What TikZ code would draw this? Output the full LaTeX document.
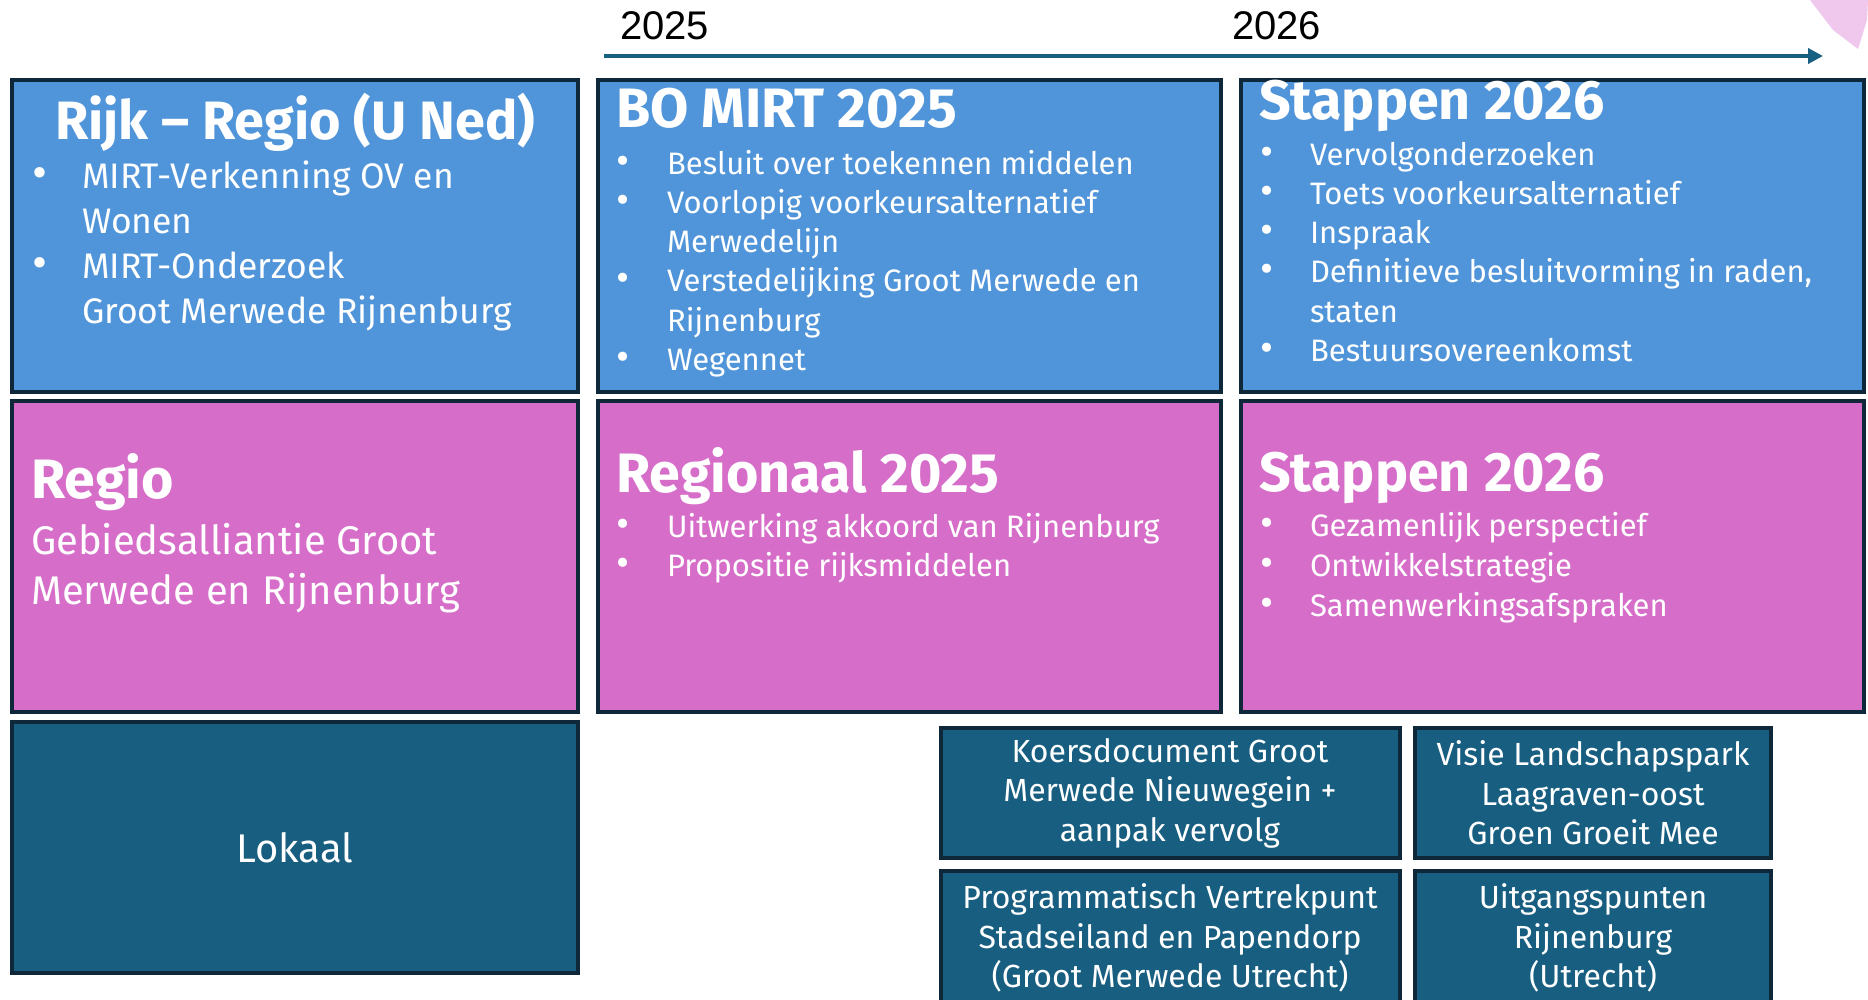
\documentclass[tikz,border=0pt]{standalone}
\usepackage{fontspec}
\setmainfont{Fira Sans}
\newfontfamily\yearfont{Liberation Sans}
\usetikzlibrary{arrows.meta}
\definecolor{bluebox}{RGB}{80,149,217}
\definecolor{pinkbox}{RGB}{214,110,201}
\definecolor{tealbox}{RGB}{23,94,128}
\definecolor{edgec}{RGB}{14,40,58}
\definecolor{arrowc}{RGB}{24,96,130}
\definecolor{pinklight}{RGB}{240,200,238}
\newlength{\bind}
\newcommand{\bfirst}[1]{\noindent\hangindent=\bind\hangafter=1\makebox[\bind][l]{\scalebox{1.3}{•}}#1}
\newcommand{\bitem}[1]{\par\bfirst{#1}}
\newcommand{\bodyset}[3]{\fontsize{#1}{#2}\selectfont\spaceskip=0pt\xspaceskip=0pt\setlength{\bind}{#3}}
\tikzset{
  box/.style={draw=edgec, line width=3.5pt},
  bluecell/.style={box, fill=bluebox},
  pinkcell/.style={box, fill=pinkbox},
  tealcell/.style={box, fill=tealbox},
  title/.style={text=white, inner sep=0pt, outer sep=0pt, anchor=base west, font=\bfseries\fontsize{55.5}{60}\selectfont},
  items/.style={text=white, inner sep=0pt, outer sep=0pt, anchor=base west, align=left, text width=#1},
  smalltxt/.style={text=white, inner sep=0pt, outer sep=0pt, align=center, font=\fontsize{32}{39.5}\selectfont},
  year/.style={text=black, inner sep=0pt, outer sep=0pt, anchor=base west, font=\yearfont\fontsize{40}{42}\selectfont},
}
\begin{document}
\begin{tikzpicture}[x=1pt, y=-1pt]
\useasboundingbox (0,0) rectangle (1868,999);
\clip (0,0) rectangle (1868,999);
\fill[white] (0,0) rectangle (1868,999);
% decorative pink corner
\fill[pinklight] (1810,0) -- (1833,30) -- (1858,49) -- (1867,20) -- (1868,0) -- cycle;
% timeline
\node[year] (y25) at (620,39) {2025};
\node[year] (y26) at (1232,39) {2026};
\coordinate (ta) at (604,56);
\coordinate (tb) at (1823,56);
\draw[arrowc, line width=4pt, -{Triangle[length=15pt,width=15pt]}] (ta) -- (tb);
% row 1
\draw[bluecell] (12,80) rectangle (578,392) coordinate (bA);
\draw[bluecell] (598,80) rectangle (1221,392) coordinate (bB);
\draw[bluecell] (1241,80) rectangle (1864,392) coordinate (bC);
% row 2
\draw[pinkcell] (12,401) rectangle (578,712) coordinate (pA);
\draw[pinkcell] (598,401) rectangle (1221,712) coordinate (pB);
\draw[pinkcell] (1241,401) rectangle (1864,712) coordinate (pC);
% row 3
\draw[tealcell] (12,722) rectangle (578,973) coordinate (lA);
\draw[tealcell] (941,728) rectangle (1400,858) coordinate (kB);
\draw[tealcell] (1415,728) rectangle (1771,858) coordinate (vB);
\draw[tealcell] (941,871) rectangle (1400,1006) coordinate (pP);
\draw[tealcell] (1415,871) rectangle (1771,1006) coordinate (uP);

% box A row 1
\node[title, anchor=base, font=\bfseries\fontsize{54}{60}\selectfont] (tA) at (295,139) {Rijk – Regio (U Ned)};
\node[items=540pt] (iA) at (32,188) {\bodyset{35.5}{45.3}{50pt}%
\bfirst{MIRT-Verkenning OV en\newline Wonen}%
\bitem{MIRT-Onderzoek\newline Groot Merwede Rijnenburg}\par};
% box B row 1
\node[title] (tB) at (616,127) {BO MIRT 2025};
\node[items=600pt] (iB) at (616,174) {\bodyset{31}{39.3}{51pt}%
\bfirst{Besluit over toekennen middelen}%
\bitem{Voorlopig voorkeursalternatief\newline Merwedelijn}%
\bitem{Verstedelijking Groot Merwede en\newline Rijnenburg}%
\bitem{Wegennet}\par};
% box C row 1
\node[title] (tC) at (1259,119) {Stappen 2026};
\node[items=600pt] (iC) at (1260,165) {\bodyset{31}{39.3}{50pt}%
\bfirst{Vervolgonderzoeken}%
\bitem{Toets voorkeursalternatief}%
\bitem{Inspraak}%
\bitem{Definitieve besluitvorming in raden,\newline staten}%
\bitem{Bestuursovereenkomst}\par};

% row 2
\node[title] (tRA) at (31,498) {Regio};
\node[items=540pt] (iRA) at (31,554) {\bodyset{40}{50}{0pt}Gebiedsalliantie Groot\\Merwede en Rijnenburg\par};
\node[title] (tRB) at (616,492) {Regionaal 2025};
\node[items=600pt] (iRB) at (616,537) {\bodyset{31}{39.5}{51pt}%
\bfirst{Uitwerking akkoord van Rijnenburg}%
\bitem{Propositie rijksmiddelen}\par};
\node[title] (tRC) at (1259,491) {Stappen 2026};
\node[items=600pt] (iRC) at (1260,536) {\bodyset{31}{40}{50pt}%
\bfirst{Gezamenlijk perspectief}%
\bitem{Ontwikkelstrategie}%
\bitem{Samenwerkingsafspraken}\par};

% row 3
\node[text=white, inner sep=0pt, font=\fontsize{40}{48}\selectfont] (lok) at (295,848) {Lokaal};
\node[smalltxt] (kt) at (1170,793) {Koersdocument Groot\\Merwede Nieuwegein +\\aanpak vervolg};
\node[smalltxt] (vt) at (1593,793) {Visie Landschapspark\\Laagraven-oost\\Groen Groeit Mee};
\node[smalltxt] (pt) at (1170,938) {Programmatisch Vertrekpunt\\Stadseiland en Papendorp\\(Groot Merwede Utrecht)};
\node[smalltxt] (ut) at (1593,938) {Uitgangspunten\\Rijnenburg\\(Utrecht)};
\end{tikzpicture}
\end{document}
